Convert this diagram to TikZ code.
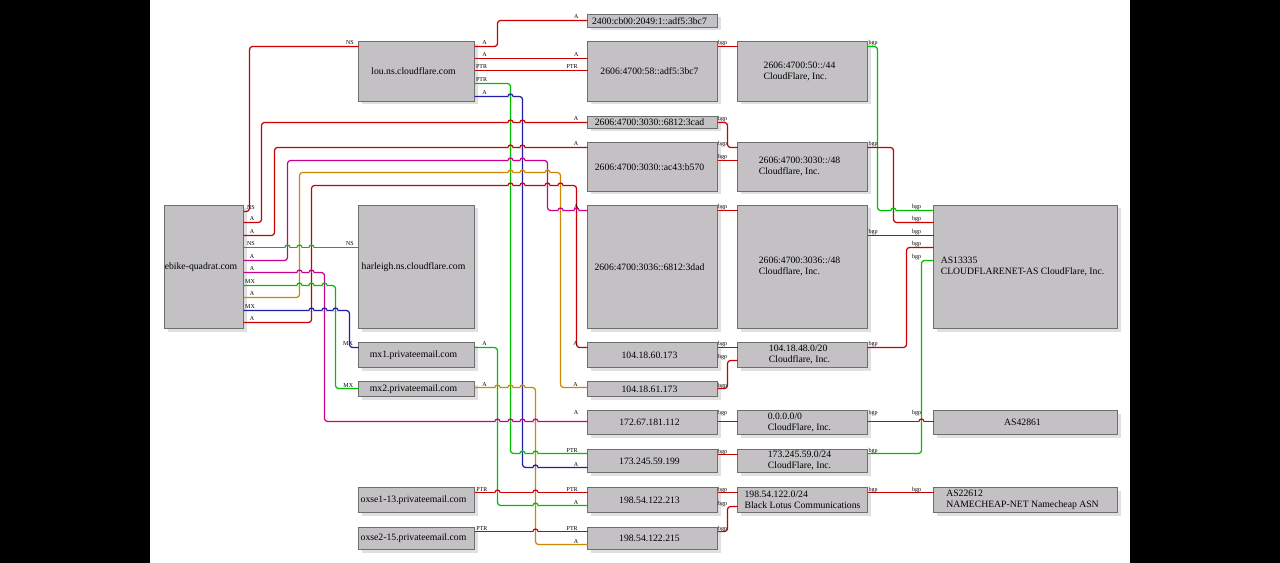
\documentclass[tikz,border=0pt]{standalone}
\usepackage{fontspec}
\setmainfont{Liberation Serif}
\usetikzlibrary{shadows}
\definecolor{boxfill}{RGB}{195,193,196}
\definecolor{boxline}{RGB}{110,110,110}
\definecolor{boxshadow}{RGB}{224,223,226}
\definecolor{ered}{RGB}{204,0,0}
\definecolor{egreen}{RGB}{0,190,0}
\definecolor{eblue}{RGB}{30,30,170}
\definecolor{emag}{RGB}{200,0,140}
\definecolor{eorange}{RGB}{204,136,0}
\tikzset{
 box/.style={fill=boxfill, draw=boxline, line width=0.8bp, inner sep=0pt, outer sep=0pt,
   font=\fontsize{9.7bp}{11bp}\selectfont, align=left,
   general shadow={fill=boxshadow, shadow xshift=3bp, shadow yshift=-3bp}},
 lab/.style={font=\fontsize{6bp}{6bp}\selectfont, inner sep=0pt, anchor=base, text=black},
 conn/.style={line width=1.25bp, rounded corners=3bp},
}
\newcommand\edgehop[4]{%
 \fill[white] (#1-2.8,#2-0.9) rectangle (#1+2.8,#2+0.9);
 \draw[line width=1.25bp,#4] (#1,#2-3.2) -- (#1,#2+3.2);
 \draw[line width=1.25bp,#3] (#1-2.5,#2) arc[start angle=180,end angle=360,radius=2.5];}
\newcommand\lb[4]{\node[lab] (#1) at (#2,#3) {#4};}
\newcommand\tx[1]{#1\kern6bp}
\begin{document}
\begin{tikzpicture}[x=1bp,y=-1bp]
\useasboundingbox (0,0) rectangle (1280,563);
\fill[black] (0,0) rectangle (150,563);
\fill[white] (150,0) rectangle (1130,563);
\fill[black] (1130,0) rectangle (1280,563);
\begin{scope}[shift={(0.5,0.5)}]
% nodes
\node[box,minimum width=79bp,minimum height=123bp] (ebike) at (203.5,266.5) {\tx{ebike-quadrat.com}};
\node[box,minimum width=116bp,minimum height=60bp] (lou) at (416,71) {\tx{lou.ns.cloudflare.com}};
\node[box,minimum width=116bp,minimum height=123bp] (harl) at (416,266.5) {\tx{harleigh.ns.cloudflare.com}};
\node[box,minimum width=116bp,minimum height=25bp] (mx1) at (416,354.5) {\tx{mx1.privateemail.com}};
\node[box,minimum width=116bp,minimum height=15bp] (mx2) at (416,388.5) {\tx{mx2.privateemail.com}};
\node[box,minimum width=116bp,minimum height=25bp] (ox1) at (416,499.5) {\tx{oxse1-13.privateemail.com}};
\node[box,minimum width=116bp,minimum height=22bp] (ox2) at (416,538) {\tx{oxse2-15.privateemail.com}};

\node[box,minimum width=130bp,minimum height=13bp] (ip2400) at (652,20.5) {\tx{2400:cb00:2049:1::adf5:3bc7}};
\node[box,minimum width=130bp,minimum height=60bp] (ip58) at (652,71) {\tx{2606:4700:58::adf5:3bc7}};
\node[box,minimum width=130bp,minimum height=12bp] (ip3cad) at (652,122) {\tx{2606:4700:3030::6812:3cad}};
\node[box,minimum width=130bp,minimum height=49bp] (ipb570) at (652,166.5) {\tx{2606:4700:3030::ac43:b570}};
\node[box,minimum width=130bp,minimum height=123bp] (ip3dad) at (652,266.5) {\tx{2606:4700:3036::6812:3dad}};
\node[box,minimum width=130bp,minimum height=25bp] (ip60) at (652,354.5) {\tx{104.18.60.173}};
\node[box,minimum width=130bp,minimum height=15bp] (ip61) at (652,388.5) {\tx{104.18.61.173}};
\node[box,minimum width=130bp,minimum height=24bp] (ip172) at (652,422) {\tx{172.67.181.112}};
\node[box,minimum width=130bp,minimum height=23bp] (ip173) at (652,460.5) {\tx{173.245.59.199}};
\node[box,minimum width=130bp,minimum height=25bp] (ip213) at (652,499.5) {\tx{198.54.122.213}};
\node[box,minimum width=130bp,minimum height=22bp] (ip215) at (652,538) {\tx{198.54.122.215}};

\node[box,minimum width=130bp,minimum height=60bp] (pf50) at (802,71) {\tx{2606:4700:50::/44}\\\tx{CloudFlare, Inc.}};
\node[box,minimum width=130bp,minimum height=49bp] (pf3030) at (802,166.5) {\tx{2606:4700:3030::/48}\\\tx{Cloudflare, Inc.}};
\node[box,minimum width=130bp,minimum height=123bp] (pf3036) at (802,266.5) {\tx{2606:4700:3036::/48}\\\tx{Cloudflare, Inc.}};
\node[box,minimum width=130bp,minimum height=25bp] (pf104) at (802,354.5) {\tx{104.18.48.0/20}\\\tx{Cloudflare, Inc.}};
\node[box,minimum width=130bp,minimum height=24bp] (pf0) at (802,422) {\tx{0.0.0.0/0}\\\tx{CloudFlare, Inc.}};
\node[box,minimum width=130bp,minimum height=23bp] (pf173) at (802,460.5) {\tx{173.245.59.0/24}\\\tx{CloudFlare, Inc.}};
\node[box,minimum width=130bp,minimum height=25bp] (pf198) at (802,499.5) {198.54.122.0/24\\Black Lotus Communications};

\node[box,minimum width=184bp,minimum height=123bp] (as13335) at (1025,266.5) {\tx{AS13335}\\\tx{CLOUDFLARENET-AS CloudFlare, Inc.}};
\node[box,minimum width=184bp,minimum height=24bp] (as42861) at (1025,422) {\tx{AS42861}};
\node[box,minimum width=184bp,minimum height=25bp] (as22612) at (1025,499.5) {\tx{AS22612}\\\tx{NAMECHEAP-NET Namecheap ASN}};

% edges from ebike-quadrat.com
\draw[conn,ered] (ebike.east|-0,211) -- (249,211) -- (249,46) -- (lou.west|-0,46);
\draw[conn,ered] (ebike.east|-0,222) -- (261,222) -- (261,122) -- (ip3cad.west|-0,122);
\draw[conn,ered] (ebike.east|-0,235) -- (274,235) -- (274,147) -- (ipb570.west|-0,147);
\draw[conn,egreen] (ebike.east|-0,247) -- (harl.west|-0,247);
\draw[conn,emag] (ebike.east|-0,260) -- (287,260) -- (287,160) -- (547,160) -- (547,210) -- (ip3dad.west|-0,210);
\draw[conn,emag] (ebike.east|-0,272) -- (324,272) -- (324,421) -- (ip172.west|-0,421);
\draw[conn,egreen] (ebike.east|-0,285) -- (335,285) -- (335,388) -- (mx2.west|-0,388);
\draw[conn,eorange] (ebike.east|-0,297) -- (299,297) -- (299,172) -- (560,172) -- (560,387) -- (ip61.west|-0,387);
\draw[conn,eblue] (ebike.east|-0,310) -- (349,310) -- (349,347) -- (mx1.west|-0,347);
\draw[conn,ered] (ebike.east|-0,322) -- (311,322) -- (311,185) -- (576,185) -- (576,347) -- (ip60.west|-0,347);
% edges from name servers and mail hosts
\draw[conn,ered] (lou.east|-0,46) -- (497,46) -- (497,20) -- (ip2400.west|-0,20);
\draw[conn,ered] (lou.east|-0,58) -- (ip58.west|-0,58);
\draw[conn,ered] (lou.east|-0,70) -- (ip58.west|-0,70);
\draw[conn,egreen] (lou.east|-0,83) -- (510,83) -- (510,453) -- (ip173.west|-0,453);
\draw[conn,eblue] (lou.east|-0,96) -- (522,96) -- (522,467) -- (ip173.west|-0,467);
\draw[conn,egreen] (mx1.east|-0,347) -- (497,347) -- (497,505) -- (ip213.west|-0,505);
\draw[conn,eorange] (mx2.east|-0,387) -- (535,387) -- (535,544) -- (ip215.west|-0,544);
\draw[conn,ered] (ox1.east|-0,492) -- (ip213.west|-0,492);
\draw[conn,ered] (ox2.east|-0,531) -- (ip215.west|-0,531);
% bgp: address -> prefix
\draw[conn,ered] (ip58.east|-0,46) -- (pf50.west|-0,46);
\draw[conn,ered] (ip3cad.east|-0,122) -- (727,122) -- (727,147) -- (pf3030.west|-0,147);
\draw[conn,ered] (ipb570.east|-0,160) -- (pf3030.west|-0,160);
\draw[conn,ered] (ip3dad.east|-0,210) -- (pf3036.west|-0,210);
\draw[conn,ered] (ip60.east|-0,347) -- (pf104.west|-0,347);
\draw[conn,ered] (ip61.east|-0,388) -- (727,388) -- (727,360) -- (pf104.west|-0,360);
\draw[conn,ered] (ip172.east|-0,421) -- (pf0.west|-0,421);
\draw[conn,ered] (ip173.east|-0,454) -- (pf173.west|-0,454);
\draw[conn,ered] (ip213.east|-0,492) -- (pf198.west|-0,492);
\draw[conn,ered] (ip215.east|-0,531) -- (727,531) -- (727,506) -- (pf198.west|-0,506);
% bgp: prefix -> AS
\draw[conn,egreen] (pf50.east|-0,46) -- (877,46) -- (877,210) -- (as13335.west|-0,210);
\draw[conn,ered] (pf3030.east|-0,147) -- (893,147) -- (893,222) -- (as13335.west|-0,222);
\draw[conn,ered] (pf3036.east|-0,235) -- (as13335.west|-0,235);
\draw[conn,ered] (pf104.east|-0,347) -- (906,347) -- (906,247) -- (as13335.west|-0,247);
\draw[conn,egreen] (pf173.east|-0,453) -- (921,453) -- (921,260) -- (as13335.west|-0,260);
\draw[conn,ered] (pf0.east|-0,421) -- (as42861.west|-0,421);
\draw[conn,ered] (pf198.east|-0,492) -- (as22612.west|-0,492);

% line jumps
\edgehop{510}{122}{ered}{egreen}\edgehop{522}{122}{ered}{eblue}
\edgehop{510}{147}{ered}{egreen}\edgehop{522}{147}{ered}{eblue}
\edgehop{287}{247}{egreen}{emag}\edgehop{299}{247}{egreen}{eorange}\edgehop{311}{247}{egreen}{ered}
\edgehop{510}{160}{emag}{egreen}\edgehop{522}{160}{emag}{eblue}
\edgehop{560}{210}{emag}{eorange}\edgehop{576}{210}{emag}{ered}
\edgehop{299}{272}{emag}{eorange}\edgehop{311}{272}{emag}{ered}
\edgehop{497}{421}{emag}{egreen}\edgehop{510}{421}{emag}{egreen}\edgehop{522}{421}{emag}{eblue}\edgehop{535}{421}{emag}{eorange}
\edgehop{299}{285}{egreen}{eorange}\edgehop{311}{285}{egreen}{ered}\edgehop{324}{285}{egreen}{emag}
\edgehop{510}{172}{eorange}{egreen}\edgehop{522}{172}{eorange}{eblue}\edgehop{547}{172}{eorange}{emag}
\edgehop{311}{310}{eblue}{ered}\edgehop{324}{310}{eblue}{emag}\edgehop{335}{310}{eblue}{egreen}
\edgehop{510}{185}{ered}{egreen}\edgehop{522}{185}{ered}{eblue}\edgehop{547}{185}{ered}{emag}\edgehop{560}{185}{ered}{eorange}
\edgehop{510}{96}{eblue}{egreen}
\edgehop{522}{453}{egreen}{eblue}\edgehop{535}{453}{egreen}{eorange}
\edgehop{535}{467}{eblue}{eorange}
\edgehop{535}{505}{egreen}{eorange}
\edgehop{497}{387}{eorange}{egreen}\edgehop{510}{387}{eorange}{egreen}\edgehop{522}{387}{eorange}{eblue}
\edgehop{497}{492}{ered}{egreen}\edgehop{535}{492}{ered}{eorange}
\edgehop{535}{531}{ered}{eorange}
\edgehop{893}{210}{egreen}{ered}
\edgehop{921}{421}{ered}{egreen}

% labels: ebike tails
\lb{t1}{250.5}{209.5}{NS}\lb{t2}{251.5}{220.5}{A}\lb{t3}{251.5}{233.5}{A}
\lb{t4}{250.5}{245.5}{NS}\lb{t5}{251.5}{258.5}{A}\lb{t6}{251.5}{270.5}{A}
\lb{t7}{249.5}{283.5}{MX}\lb{t8}{251.5}{295.5}{A}\lb{t9}{249.5}{308.5}{MX}
\lb{t10}{251.5}{320.5}{A}
% heads at name boxes
\lb{h1}{349.5}{44.5}{NS}\lb{h2}{349.5}{245.5}{NS}\lb{h3}{347.5}{345.5}{MX}\lb{h4}{347.8}{386.5}{MX}
% heads at address boxes
\lb{h5}{575.7}{18.5}{A}\lb{h6}{575.7}{56.5}{A}\lb{h7}{571.5}{68.5}{PTR}
\lb{h8}{575.5}{120.5}{A}\lb{h9}{575.5}{145.5}{A}\lb{h10}{575.7}{208.5}{A}
\lb{h11}{575}{345.5}{A}\lb{h12}{575}{385.5}{A}\lb{h13}{575.5}{413.5}{A}
\lb{h14}{571.7}{451.5}{PTR}\lb{h15}{575.5}{465.5}{A}
\lb{h16}{571.7}{490.5}{PTR}\lb{h17}{575.5}{503.5}{A}
\lb{h18}{571.7}{529.5}{PTR}\lb{h19}{575.5}{542.5}{A}
% tails at name boxes
\lb{t11}{484}{44.5}{A}\lb{t12}{484}{56.5}{A}\lb{t13}{481}{68.5}{PTR}
\lb{t14}{481}{81.5}{PTR}\lb{t15}{484}{94.5}{A}
\lb{t16}{484}{345.5}{A}\lb{t17}{484}{385.5}{A}
\lb{t18}{481.3}{490.5}{PTR}\lb{t19}{481.3}{529.5}{PTR}
% bgp labels
\lb{b1}{722}{44.5}{bgp}\lb{b2}{722}{120.5}{bgp}\lb{b3}{722}{145.5}{bgp}\lb{b4}{722}{158.5}{bgp}
\lb{b5}{722}{208.5}{bgp}\lb{b6}{722}{345.5}{bgp}\lb{b7}{722}{358.5}{bgp}\lb{b8}{722}{386.5}{bgp}
\lb{b9}{722}{413.5}{bgp}\lb{b10}{722}{452.5}{bgp}\lb{b11}{722}{490.5}{bgp}\lb{b12}{722}{504.5}{bgp}
\lb{b13}{722}{529.5}{bgp}
\lb{c1}{872.5}{44.5}{bgp}\lb{c2}{872.5}{145.5}{bgp}\lb{c3}{872.5}{233.5}{bgp}\lb{c4}{872.5}{345.5}{bgp}
\lb{c5}{872.5}{413.5}{bgp}\lb{c6}{872.5}{451.5}{bgp}\lb{c7}{872.5}{490.5}{bgp}
\lb{d1}{916}{208.5}{bgp}\lb{d2}{916}{220.5}{bgp}\lb{d3}{916}{233.5}{bgp}\lb{d4}{916}{245.5}{bgp}
\lb{d5}{916}{258.5}{bgp}\lb{d6}{916}{413.5}{bgp}\lb{d7}{916}{490.5}{bgp}
\end{scope}
\end{tikzpicture}
\end{document}
